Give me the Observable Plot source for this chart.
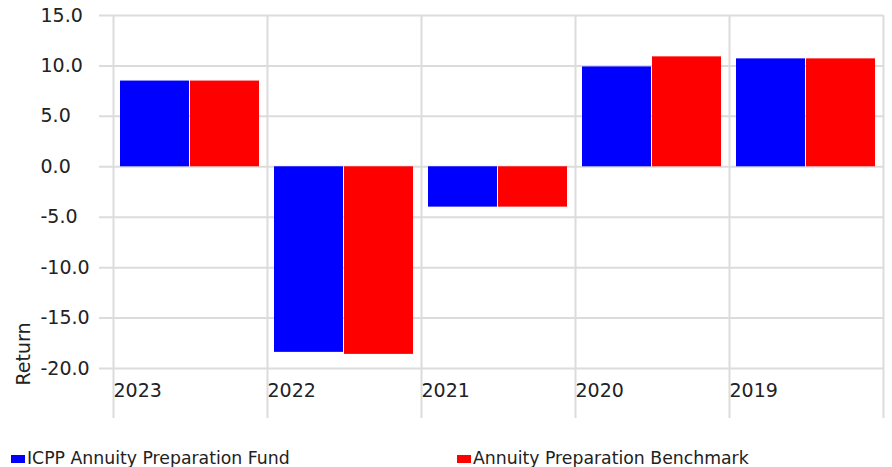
<!DOCTYPE html>
<html><head><meta charset="utf-8">
<script src="https://cdn.jsdelivr.net/npm/d3@7"></script>
<script src="https://cdn.jsdelivr.net/npm/@observablehq/plot@0.6"></script>
<style>
body{margin:0;background:#fff;font-family:"DejaVu Sans",Verdana,sans-serif;}
#chart{position:relative;width:892px;height:467px;overflow:hidden;background:#fff}
#chart svg{display:block}
.legend{position:absolute;top:447px;left:0;width:892px;height:30px;font-size:17.3px;color:#222;}
.item{position:absolute;top:0;display:flex;align-items:center;white-space:nowrap;line-height:22px}
.sw{width:14px;height:8px;margin-right:2px;display:inline-block;position:relative;top:1px}
</style></head><body><div id="chart"></div>
<script>
const years = ["2023", "2022", "2021", "2020", "2019"];
const seriesNames = ["ICPP Annuity Preparation Fund", "Annuity Preparation Benchmark"];
const fundReturns = [8.5, -18.4, -4.0, 9.9, 10.7];
const benchReturns = [8.5, -18.6, -4.0, 10.9, 10.7];
const seriesColors = ["#0000ff", "#ff0000"];
const yTicks = [-20, -15, -10, -5, 0, 5, 10, 15];
const yLabel = "Return";

const fundData = years.map((year, i) => ({year, value: fundReturns[i]}));
const benchData = years.map((year, i) => ({year, value: benchReturns[i]}));

const W = 892, H = 430;
const band = (W - 113 - 9) / years.length;
const half = band / 2;
const grid = "#dcdcdc";

const plot = Plot.plot({
  width: W, height: H,
  marginLeft: 113, marginRight: 9, marginTop: 15, marginBottom: 62,
  style: {fontFamily: "'DejaVu Sans', Verdana, sans-serif", fontSize: "19px", color: "#222", background: "#fff", overflow: "visible"},
  x: {domain: years, padding: 0, axis: null},
  y: {domain: [-20, 15], axis: null},
  marks: [
    Plot.ruleY(yTicks, {y: d => d, stroke: grid, strokeWidth: 2, insetLeft: -14}),
    Plot.ruleX(years, {x: d => d, dx: -half, stroke: grid, strokeWidth: 2, insetBottom: -50}),
    Plot.ruleX([years[years.length - 1]], {x: d => d, dx: half, stroke: grid, strokeWidth: 2, insetBottom: -50}),
    Plot.barY(fundData, {x: "year", y: "value", fill: seriesColors[0], insetLeft: 7, insetRight: band - 76}),
    Plot.barY(benchData, {x: "year", y: "value", fill: seriesColors[1], insetLeft: half, insetRight: 8}),
    Plot.text(yTicks, {y: d => d, text: d => d.toFixed(1), frameAnchor: "left", textAnchor: "start", dx: -73, lineAnchor: "middle"}),
    Plot.text(years, {x: d => d, text: d => d, frameAnchor: "bottom", textAnchor: "start", dx: -half, dy: 22, lineAnchor: "middle"}),
    Plot.text([yLabel], {text: d => d, frameAnchor: "bottom-left", rotate: -90, textAnchor: "start", dx: -90, dy: 17, lineAnchor: "middle"})
  ]
});
const chart = document.getElementById("chart");
chart.appendChild(plot);

const legend = document.createElement("div");
legend.className = "legend";
const lefts = [11, 457];
seriesNames.forEach((name, i) => {
  const item = document.createElement("div");
  item.className = "item";
  item.style.left = lefts[i] + "px";
  const sw = document.createElement("span");
  sw.className = "sw";
  sw.style.background = seriesColors[i];
  const t = document.createElement("span");
  t.textContent = name;
  item.appendChild(sw);
  item.appendChild(t);
  legend.appendChild(item);
});
chart.appendChild(legend);
</script>
</body></html>
